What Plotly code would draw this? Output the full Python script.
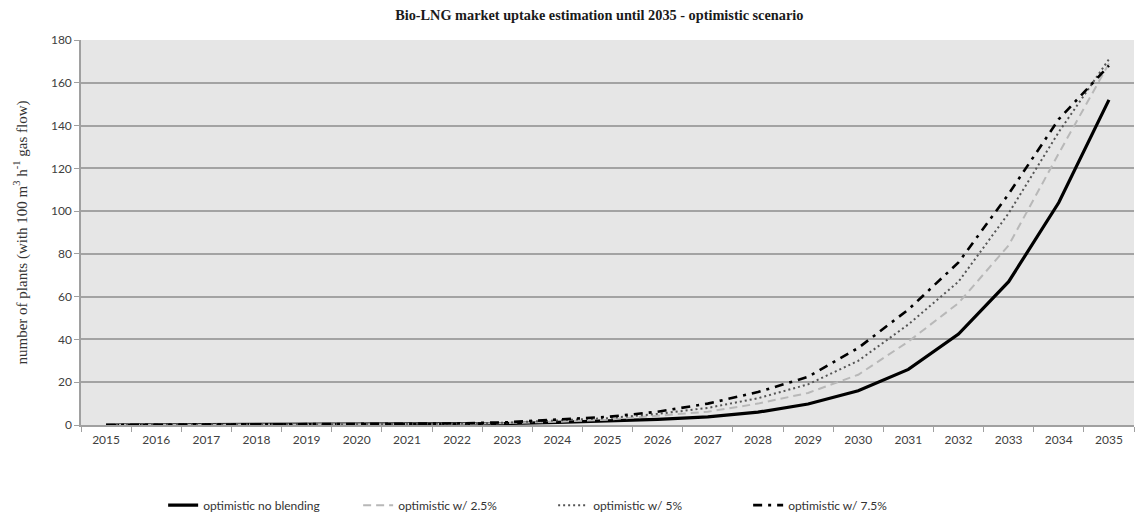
import plotly.graph_objects as go

# Years on the category axis
years = [str(y) for y in range(2015, 2036)]

# Number of plants per scenario (100 m3/h gas flow units)
no_blending = [0, 0.1, 0.1, 0.1, 0.1, 0.15, 0.25, 0.4, 0.7, 1.2, 1.9, 2.6, 3.8, 6, 9.8, 16, 26, 42.5, 67, 104, 152]
blend_2_5 = [0, 0.1, 0.1, 0.15, 0.15, 0.2, 0.3, 0.5, 0.9, 1.5, 2.5, 4.2, 6.2, 10, 15, 23.5, 39, 57, 84, 127, 169]
blend_5 = [0, 0.1, 0.15, 0.15, 0.2, 0.25, 0.35, 0.6, 1.1, 2.0, 3.2, 5.2, 8, 12.5, 19, 30, 47, 67, 99, 137, 171]
blend_7_5 = [0, 0.1, 0.15, 0.2, 0.2, 0.3, 0.4, 0.7, 1.3, 2.4, 3.8, 6.2, 10, 15.4, 22.5, 36, 54, 76, 108, 143, 168]

series = [
    ("optimistic no blending", no_blending, dict(color="#000000", width=3.2, dash="solid")),
    ("optimistic w/ 2.5%", blend_2_5, dict(color="#b8b8b8", width=2, dash="8px,5px")),
    ("optimistic w/ 5%", blend_5, dict(color="#555555", width=2, dash="2px,3px")),
    ("optimistic w/ 7.5%", blend_7_5, dict(color="#000000", width=2.6, dash="9px,6px,3px,6px")),
]

fig = go.Figure()
for name, vals, line in series:
    fig.add_trace(go.Scatter(x=years, y=vals, mode="lines", name=name, line=line))

tick_font = dict(family="Lato", size=12, color="#404040")

fig.update_layout(
    width=1135,
    height=520,
    margin=dict(l=81, r=1, t=40, b=94),
    paper_bgcolor="#ffffff",
    plot_bgcolor="#e6e6e6",
    title=dict(
        text="<b>Bio-LNG market uptake estimation until 2035 - optimistic scenario</b>",
        font=dict(family="Liberation Serif", size=14.3, color="#1a1a1a"),
        x=0.528, xanchor="center", y=0.972, yanchor="middle",
    ),
    showlegend=True,
    legend=dict(
        orientation="h", x=0.078, xanchor="left", y=-0.205, yanchor="middle",
        font=dict(family="Lato", size=12, color="#333333"),
        entrywidth=150, entrywidthmode="pixels",
        itemwidth=30, tracegroupgap=0, bgcolor="rgba(0,0,0,0)",
    ),
    font=dict(family="Lato", size=12, color="#404040"),
)

fig.update_xaxes(
    type="category",
    range=[-0.5, 20.5],
    showgrid=False,
    showline=True, linecolor="#a0a0a0", linewidth=1.5,
    ticks="outside", ticklen=5, tickcolor="#a0a0a0", tickwidth=1,
    tickson="boundaries",
    ticklabelstandoff=3,
    tickfont=tick_font,
)

fig.update_yaxes(
    range=[0, 180], dtick=20,
    showgrid=True, gridcolor="#a3a3a3", gridwidth=1.5,
    zeroline=False,
    showline=True, linecolor="#a0a0a0", linewidth=1.5,
    ticks="outside", ticklen=5, tickcolor="#a0a0a0", tickwidth=1,
    tickfont=tick_font,
    title=dict(
        text="number of plants (with 100 m<sup>3</sup> h<sup>-1</sup> gas flow)",
        font=dict(family="Liberation Serif", size=15, color="#333333"),
        standoff=20,
    ),
)

fig.write_html("out.html")
